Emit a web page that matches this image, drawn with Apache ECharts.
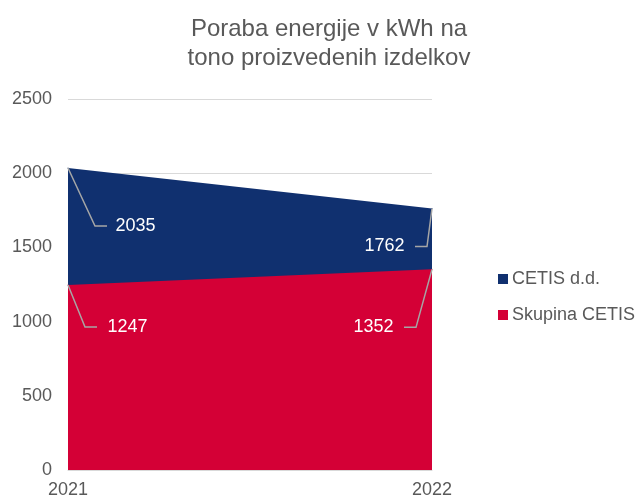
<!DOCTYPE html>
<html><head><meta charset="utf-8">
<script src="https://cdn.jsdelivr.net/npm/echarts@6/dist/echarts.min.js"></script>
<style>html,body{margin:0;padding:0;background:#fff}#c{width:636px;height:500px}</style>
</head><body><div id="c"></div>
<script>
const categories = ['2021', '2022'];
const cetisDD = [2035, 1762];
const skupinaCetis = [1247, 1352];
const yTicks = [0, 500, 1000, 1500, 2000, 2500];

// label offsets (dx, dy) from the data point, pixels
const ddLabelOffsets = [[42, 58], [-22, 38]];
const skLabelOffsets = [[34, 42], [-33, 58]];
// leader line elbow offsets from the data point, and horizontal run
const ddElbows = [[27, 58, 12], [-5, 38, -12]];
const skElbows = [[17, 42, 12], [-16, 58, -12]];

const font = 'Liberation Sans, Arial, sans-serif';
const chart = echarts.init(document.getElementById('c'), null, {renderer: 'canvas'});

function mkSeries(name, data, color, offsets) {
  return {
    name: name,
    type: 'line',
    data: data.map((v, i) => ({
      value: v,
      label: {position: i === 0 ? 'right' : 'left'}
    })),
    symbol: 'circle',
    symbolSize: 1,
    showSymbol: true,
    lineStyle: {width: 0, color: color},
    itemStyle: {color: color},
    areaStyle: {color: color, opacity: 1},
    label: {show: true, color: '#ffffff', fontSize: 18, fontFamily: font, distance: 5},
    labelLayout: function (p) {
      const o = offsets[p.dataIndex];
      return {dx: o[0], dy: o[1]};
    },
    emphasis: {disabled: true},
    silent: true,
    animation: false
  };
}

chart.setOption({
  animation: false,
  title: {
    text: 'Poraba energije v kWh na\ntono proizvedenih izdelkov',
    left: 324, top: 10, textAlign: 'center',
    textStyle: {fontFamily: font, fontSize: 24, fontWeight: 'normal', color: '#595959', lineHeight: 29}
  },
  legend: {
    orient: 'vertical', left: 493, top: 265,
    itemWidth: 10, itemHeight: 10, itemGap: 18,
    icon: 'rect',
    textStyle: {fontFamily: font, fontSize: 18, color: '#595959', padding: [0,0,0,-1]},
    data: ['CETIS d.d.', 'Skupina CETIS']
  },
  grid: {left: 68, right: 204, top: 99, bottom: 30, containLabel: false},
  xAxis: {
    type: 'category', data: categories, boundaryGap: false,
    axisLine: {lineStyle: {color: '#d9d9d9', width: 1}},
    axisTick: {show: false},
    axisLabel: {fontFamily: font, fontSize: 18, color: '#595959', margin: 11}
  },
  yAxis: {
    type: 'value', min: yTicks[0], max: yTicks[yTicks.length - 1], interval: 500,
    axisLine: {show: false}, axisTick: {show: false},
    splitLine: {lineStyle: {color: '#d9d9d9', width: 1}},
    axisLabel: {fontFamily: font, fontSize: 18, color: '#595959', margin: 16,
      formatter: v => String(v)}
  },
  series: [
    mkSeries('CETIS d.d.', cetisDD, '#10306f', ddLabelOffsets),
    mkSeries('Skupina CETIS', skupinaCetis, '#d40036', skLabelOffsets)
  ]
});

// leader lines computed from data via the chart's scales
const leaders = [];
[[cetisDD, ddElbows, 0], [skupinaCetis, skElbows, 1]].forEach(([vals, elbows, si]) => {
  vals.forEach((v, i) => {
    const p = chart.convertToPixel({seriesIndex: si}, [i, v]);
    const e = elbows[i];
    const ex = p[0] + e[0], ey = p[1] + e[1];
    leaders.push({
      type: 'polyline', z: 100, silent: true,
      shape: {points: [[p[0], p[1]], [ex, ey], [ex + e[2], ey]]},
      style: {stroke: '#a6a6a6', lineWidth: 1.5, fill: null}
    });
  });
});
chart.setOption({graphic: leaders});
</script></body></html>
